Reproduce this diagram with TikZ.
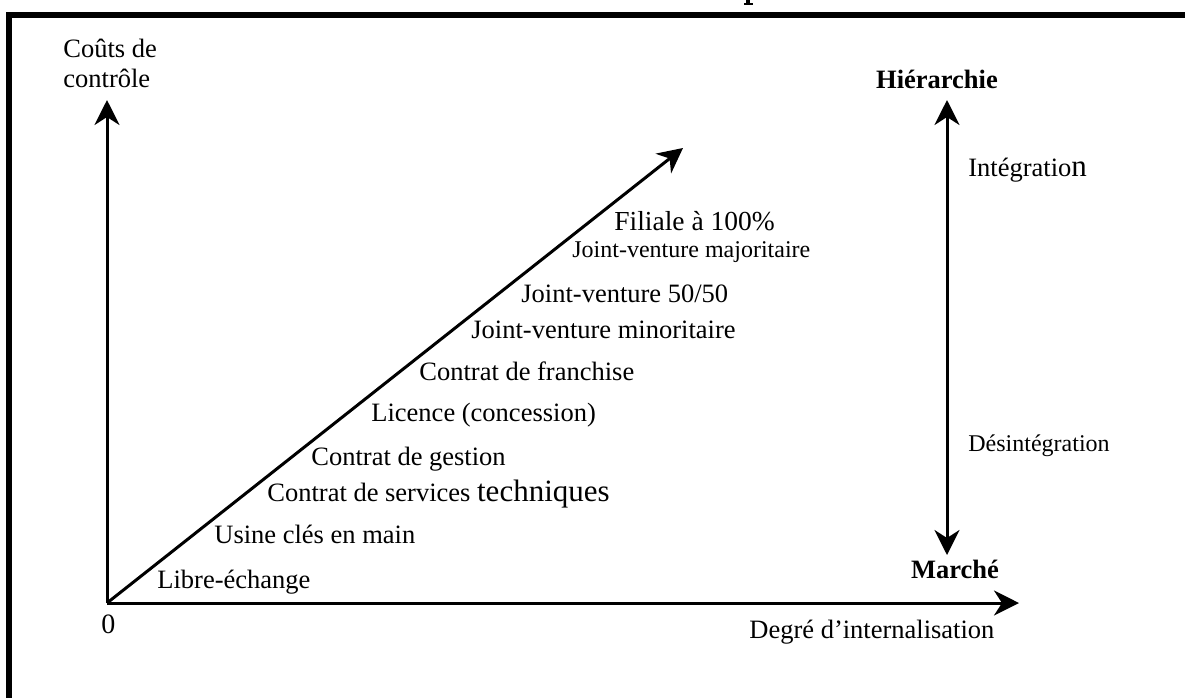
\documentclass[tikz,border=0pt]{standalone}
\usepackage{fontspec}
\setmainfont{Liberation Serif}
\usetikzlibrary{arrows.meta}
\newcommand{\szN}{\fontsize{13.25pt}{15pt}\selectfont}
\newcommand{\szS}{\fontsize{12pt}{14pt}\selectfont}
\newcommand{\szB}{\fontsize{15.5pt}{17pt}\selectfont}
\newcommand{\szZ}{\fontsize{14pt}{16pt}\selectfont}
\tikzset{
  lbl/.style={inner sep=0pt, anchor=base west, font=\szN},
  lblS/.style={lbl, font=\szS},
  axis/.style={line width=1.5pt, -{Stealth[length=12.5pt,width=12.5pt,inset=4pt]}},
  dblaxis/.style={line width=1.5pt, {Stealth[length=12.5pt,width=12.5pt,inset=4pt]}-{Stealth[length=12.5pt,width=12.5pt,inset=4pt]}},
  frame/.style={fill=black, draw=none}
}
\begin{document}
\begin{tikzpicture}[x=0.5pt,y=-0.5pt]
\useasboundingbox (0,0) rectangle (1185,698);
% frame
\fill[frame] (6,12) rectangle (1185,18);
\fill[frame] (6,12) rectangle (12,698);
% fragment of the clipped title
\fill[frame] (746,0) rectangle (750,3);
\fill[frame] (744,3) rectangle (753,4.5);
% coordinates
\coordinate (O) at (107,603);
\coordinate (ytip) at (107,100);
\coordinate (xtip) at (1019,603);
\coordinate (dtip) at (683,148);
\coordinate (htop) at (947,100);
\coordinate (hbot) at (947,555);
% axes
\draw[axis] (O) -- (ytip);
\draw[axis] (O) -- (xtip);
\draw[axis] (O) -- (dtip);
\draw[dblaxis] (hbot) -- (htop);
% axis labels
\node[lbl] (c1) at (63,57) {Coûts de};
\node[lbl] (c2) at (63,87) {contrôle};
\node[lbl, font=\szZ] (zero) at (101,633) {0};
\node[lbl] (deg) at (749,638) {Degré d’internalisation};
\node[inner sep=0pt, anchor=base, font=\szN\bfseries] (hier) at (937,88) {Hiérarchie};
\node[inner sep=0pt, anchor=base, font=\szN\bfseries] (marche) at (955,578) {Marché};
\node[lbl] (integ) at (968,176) {Intégratio{\szB n}};
\node[lblS] (desint) at (968,451) {Désintégration};
% modes
\node[lbl] (m1) at (157,588) {Libre-échange};
\node[lbl] (m2) at (214,543) {Usine clés en main};
\node[lbl] (m3) at (267,501) {Contrat de services {\szB techniques}};
\node[lbl] (m4) at (311,465) {Contrat de gestion};
\node[lbl] (m5) at (371,421) {Licence (concession)};
\node[lbl] (m6) at (419,380) {Contrat de franchise};
\node[lbl] (m7) at (471,338) {Joint-venture minoritaire};
\node[lbl] (m8) at (521,302) {Joint-venture 50/50};
\node[lblS] (m9) at (572,257) {Joint-venture majoritaire};
\node[lbl, font=\fontsize{13.75pt}{15pt}\selectfont] (m10) at (614,230) {Filiale à 100\%};
\end{tikzpicture}
\end{document}
